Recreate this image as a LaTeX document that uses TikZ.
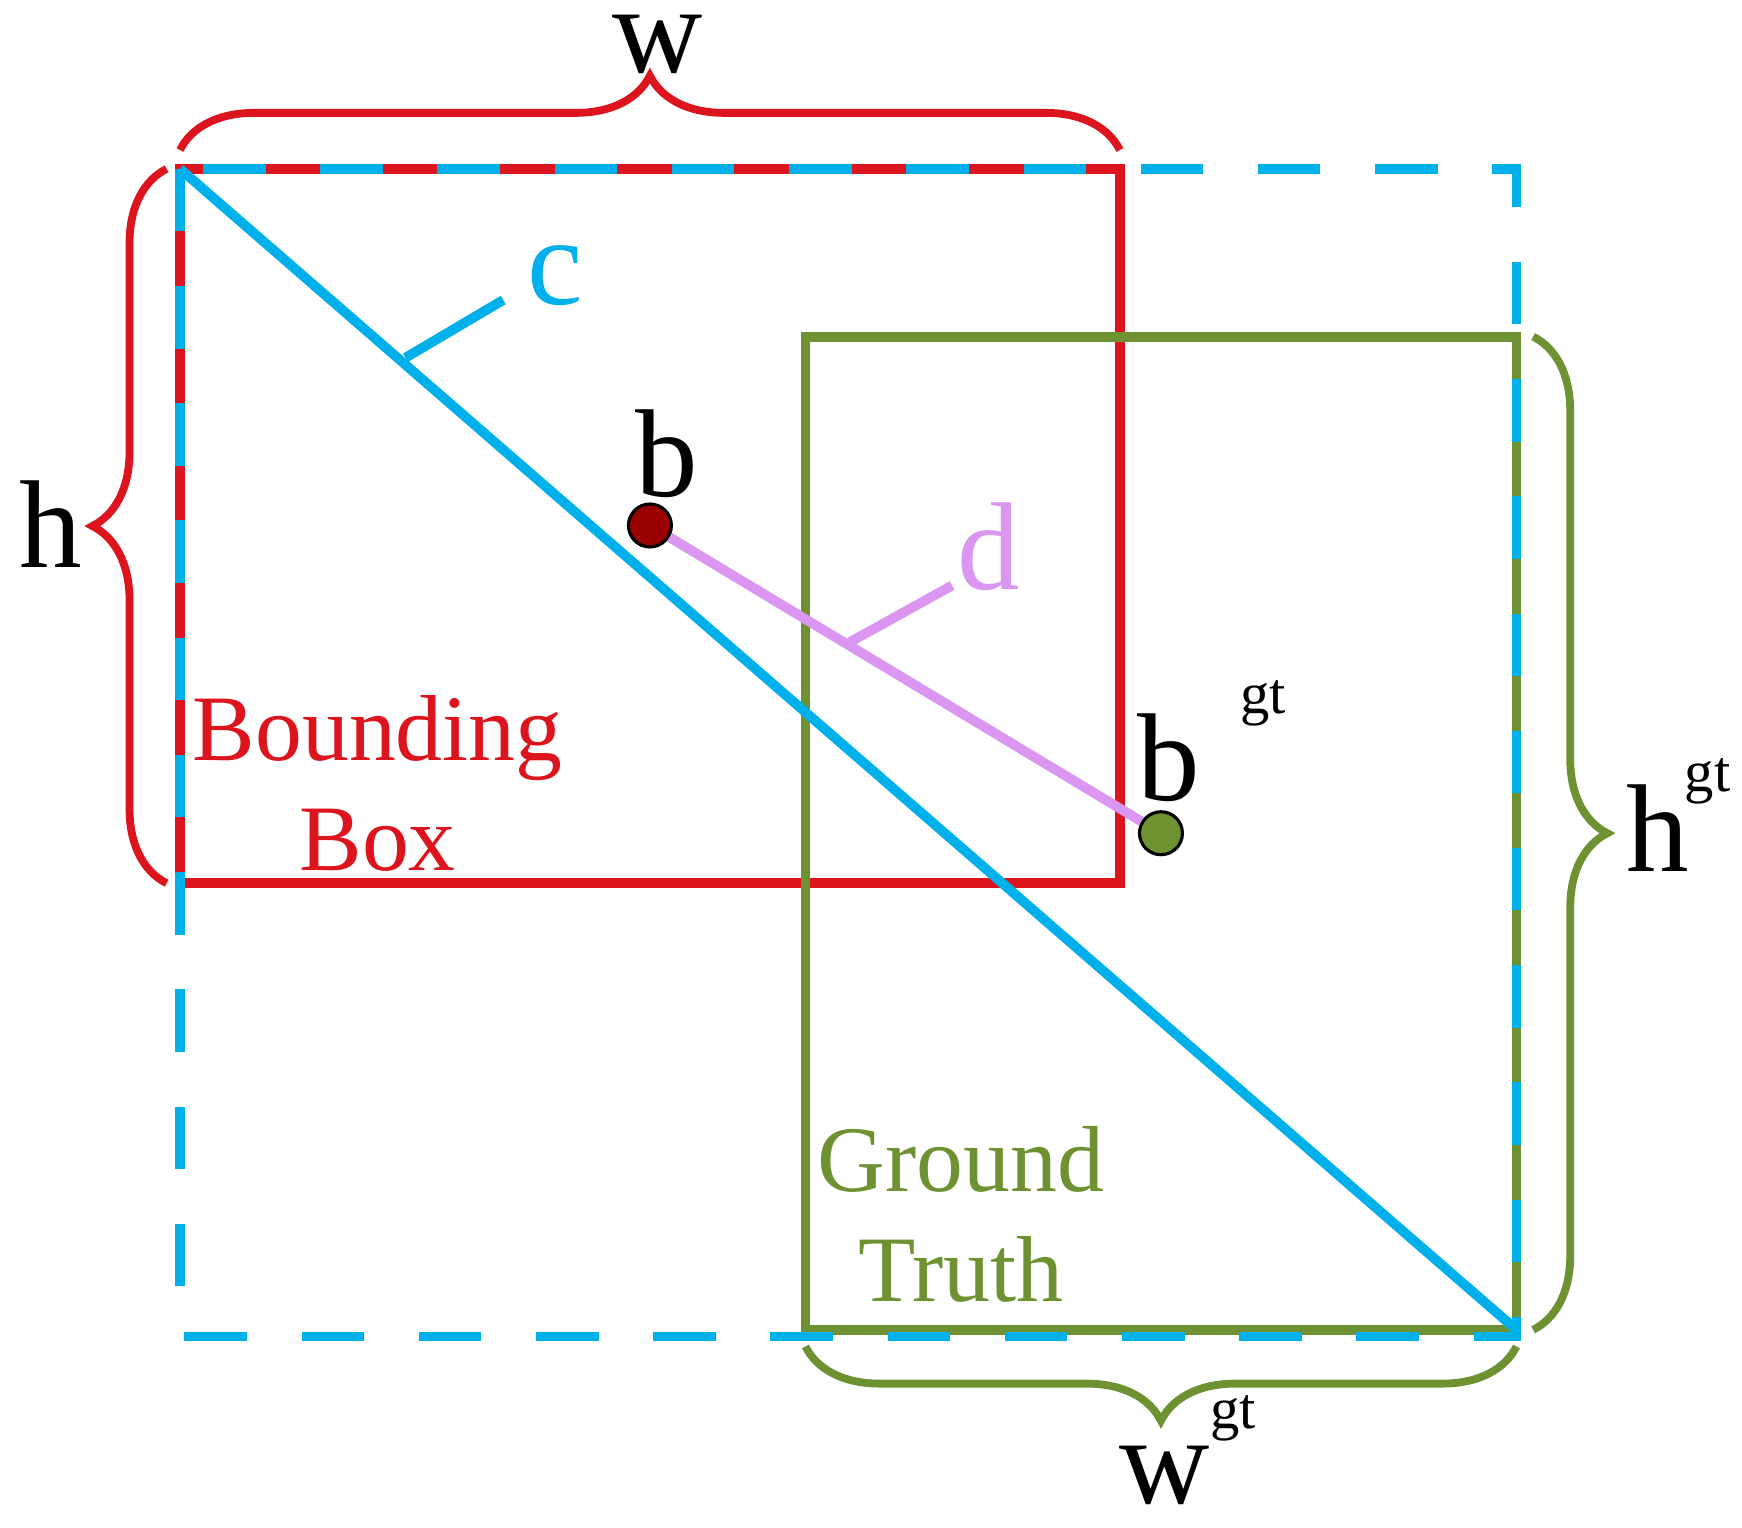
\documentclass[tikz,border=0pt]{standalone}
\usepackage{fontspec}
\setmainfont{Liberation Serif}
\usetikzlibrary{decorations.pathreplacing}
\definecolor{redbox}{RGB}{220,20,30}
\definecolor{greenbox}{RGB}{110,145,50}
\definecolor{bluebox}{RGB}{0,176,235}
\definecolor{violetd}{RGB}{218,150,240}
\tikzset{box/.style={line width=2.5pt},
         dashbox/.style={line width=2.5pt,dash pattern=on 16pt off 14pt},
         brace/.style={decorate,decoration={brace,amplitude=19pt},line width=2pt},
         big/.style={font=\fontsize{32}{32}\selectfont},
         boxlabel/.style={font=\fontsize{24}{28}\selectfont,align=center},
         suplabel/.style={font=\fontsize{15}{15}\selectfont},
         dot/.style={circle,draw=black,line width=0.8pt,minimum size=11pt,inner sep=0pt}}
\begin{document}
\begin{tikzpicture}[x=0.01cm,y=-0.01cm]
\useasboundingbox (0,0) rectangle (1568,1375);
% boxes
\draw[box,redbox] (162,152) rectangle (1008,795);
\draw[box,greenbox] (725,303) rectangle (1365,1197);
\draw[dashbox,bluebox] (162,152) rectangle (1365,1203);
% diagonal c
\coordinate (tl) at (162,152);
\coordinate (br) at (1365,1197);
\draw[box,bluebox] (tl) -- (br);
\coordinate (c1) at (365,322);
\coordinate (c2) at (453,270);
\draw[box,bluebox] (c1) -- (c2);
\node[big,text=bluebox] (c) at (500,248) {c};
% centres and d
\node[dot,fill=red!60!black] (b) at (585,473) {};
\node[dot,fill=greenbox] (bgt) at (1045,750) {};
\draw[box,violetd] (b) -- (bgt);
\coordinate (d1) at (765,578);
\coordinate (d2) at (857,527);
\draw[box,violetd] (d1) -- (d2);
\node[big,text=violetd] (d) at (890,492) {d};
\node[big] (lb) at (600,408) {b};
\node[big] (lbgt) at (1052,682) {b};
\node[suplabel] (lbgtsup) at (1137,633) {gt};
% braces
\coordinate (wa) at (162,135);
\coordinate (wb) at (1008,135);
\draw[brace,redbox] (wa) -- (wb);
\node[big] (w) at (592,40) {w};
\coordinate (ha) at (150,795);
\coordinate (hb) at (150,152);
\draw[brace,redbox] (ha) -- (hb);
\node[big] (h) at (46,472) {h};
\coordinate (hga) at (1380,303);
\coordinate (hgb) at (1380,1197);
\draw[brace,greenbox] (hga) -- (hgb);
\node[big] (hgt) at (1492,745) {h};
\node[suplabel] (hgtsup) at (1537,703) {gt};
\coordinate (wga) at (1365,1212);
\coordinate (wgb) at (725,1212);
\draw[brace,greenbox] (wga) -- (wgb);
\node[big] (wgt) at (1048,1328) {w};
\node[suplabel] (wgtsup) at (1110,1277) {gt};
% labels
\node[boxlabel,text=redbox] (bbox) at (340,705) {Bounding\\Box};
\node[boxlabel,text=greenbox] (gt) at (865,1093) {Ground\\Truth};
\end{tikzpicture}
\end{document}
